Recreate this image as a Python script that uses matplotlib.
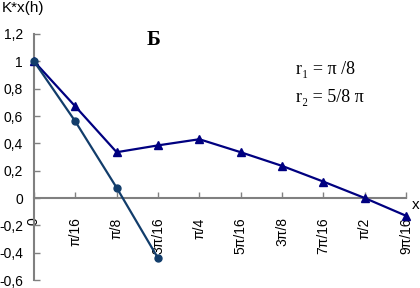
import matplotlib
matplotlib.use("Agg")
import matplotlib.pyplot as plt
import numpy as np

x_labels = ["0", "π/16", "π/8", "3π/16", "π/4", "5π/16", "3π/8", "7π/16", "π/2", "9π/16"]
r1_values = [1.0, 0.67, 0.335, 0.385, 0.43, 0.335, 0.235, 0.12, 0.0, -0.13]
r2_values = [1.0, 0.56, 0.075, -0.44]
y_ticks = [1.2, 1.0, 0.8, 0.6, 0.4, 0.2, 0.0, -0.2, -0.4, -0.6]
y_tick_labels = ["1,2", "1", "0,8", "0,6", "0,4", "0,2", "0", "-0,2", "-0,4", "-0,6"]

plt.rcParams['font.family'] = ['Liberation Sans', 'DejaVu Sans']

W, H = 420, 288
fig = plt.figure(figsize=(W / 100, H / 100), dpi=100)
ax = fig.add_axes([34 / W, 8 / H, (406 - 34) / W, (280 - 34) / H])

xs1 = np.arange(len(r1_values))
xs2 = np.arange(len(r2_values))
ax.plot(xs1, r1_values, color='#000080', lw=1.6, marker='^', ms=6, clip_on=False, zorder=3)
ax.plot(xs2, r2_values, color='#123d6b', lw=1.6, marker='o', ms=5, clip_on=False, zorder=3)

ax.set_xlim(0, len(x_labels) - 1)
ax.set_ylim(-0.6, 1.2)

for s in ['top', 'right']:
    ax.spines[s].set_visible(False)
ax.spines['bottom'].set_position(('data', 0))
ax.spines['left'].set_color('#808080')
ax.spines['bottom'].set_color('#808080')
ax.spines['left'].set_linewidth(1.5)
ax.spines['bottom'].set_linewidth(1.5)

ax.set_xticks(range(len(x_labels)))
ax.set_xticklabels(x_labels, rotation=90, va='top', ha='center')
ax.set_yticks(y_ticks)
ax.set_yticklabels(y_tick_labels)
ax.tick_params(axis='x', direction='in', length=4, width=1, color='#808080', pad=14, labelsize=10)
ax.tick_params(axis='y', direction='in', length=4, width=1, color='#808080', pad=8, labelsize=10)

fig.text(2 / W, 1 - 1 / H, "K*x(h)", fontsize=11, ha='left', va='top')
fig.text(412 / W, 1 - 205 / H, "x", fontsize=11, ha='left', va='center')
fig.text(154 / W, 1 - 40 / H, "Б", fontsize=15, fontweight='bold', family='Liberation Serif', ha='center', va='center')
fig.text(296 / W, 1 - 70 / H, "r\u2081 = π /8", fontsize=13, family=['Liberation Serif', 'DejaVu Serif'], ha='left', va='center')
fig.text(296 / W, 1 - 97 / H, "r\u2082 = 5/8 π", fontsize=13, family=['Liberation Serif', 'DejaVu Serif'], ha='left', va='center')

fig.savefig("out.png", dpi=100)
